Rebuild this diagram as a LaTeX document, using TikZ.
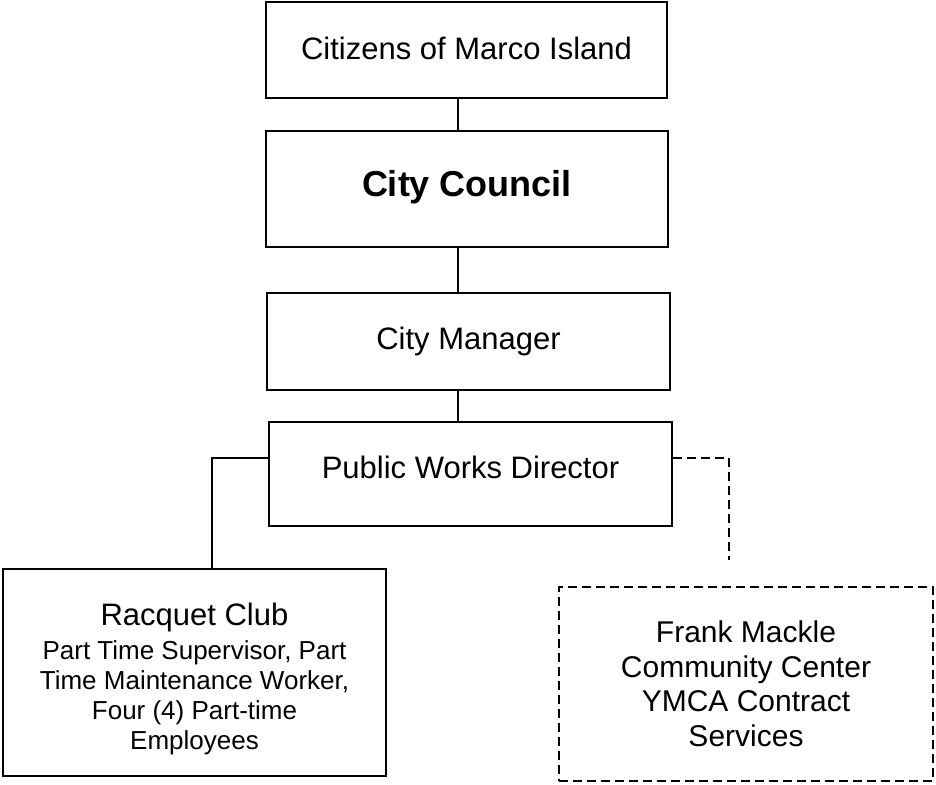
\documentclass[tikz,border=0pt]{standalone}
\usepackage{fontspec}
\setmainfont{Liberation Sans}
\begin{document}
\begin{tikzpicture}[x=1pt,y=-1pt,
  box/.style={draw=black,line width=2.4pt,rectangle,inner sep=0pt,align=center,
    font=\fontsize{31}{35}\selectfont},
  dashedbox/.style={box,line width=2pt,dash pattern=on 9pt off 5pt},
  boxtext/.style={inner sep=0pt,align=center},
  link/.style={draw=black,line width=2pt},
  thinlink/.style={draw=black,line width=1.6pt},
  dashedlink/.style={link,dash pattern=on 9pt off 5pt}]
  \useasboundingbox (0,0) rectangle (936,784);

  % boxes of the chain of command
  \node[box,minimum width=401pt,minimum height=96pt] (cit) at (466.5,50) {\raisebox{3pt}{Citizens of Marco Island}};
  \node[box,minimum width=402pt,minimum height=116pt,font=\fontsize{36}{40}\selectfont\bfseries] (cc) at (467,189) {\raisebox{12pt}{City Council}};
  \node[box,minimum width=403pt,minimum height=97pt] (cm) at (468.5,341.5) {\raisebox{-6pt}{City Manager}};
  \node[box,minimum width=403pt,minimum height=104pt] (pw) at (470.5,474) {\raisebox{13pt}{Public Works Director}};

  % facilities
  \node[box,minimum width=383pt,minimum height=207pt] (rc) at (194.5,672.5) {};
  \node[boxtext,font=\fontsize{26}{30}\selectfont] (rctext) at ([yshift=-6pt]rc.center)
    {{\fontsize{31}{34}\selectfont Racquet Club}\\[4pt]Part Time Supervisor, Part\\Time Maintenance Worker,\\Four (4) Part-time\\Employees};
  \node[dashedbox,minimum width=374pt,minimum height=194pt,font=\fontsize{30}{34.5}\selectfont] (fm) at (746,684)
    {Frank Mackle\\Community Center\\YMCA Contract\\Services};

  % routing helpers
  \coordinate (spine) at (458,0);
  \coordinate (row) at (0,458);
  \coordinate (lx) at (212,0);
  \coordinate (dend) at (729,560);

  % connectors
  \draw[thinlink] (cit.south -| spine) -- (cc.north -| spine);
  \draw[link] (cc.south -| spine) -- (cm.north -| spine);
  \draw[link] (cm.south -| spine) -- (pw.north -| spine);
  \draw[thinlink] (pw.west |- row) -| (rc.north -| lx);
  \draw[dashedlink] (pw.east |- row) -| (dend);
\end{tikzpicture}
\end{document}
